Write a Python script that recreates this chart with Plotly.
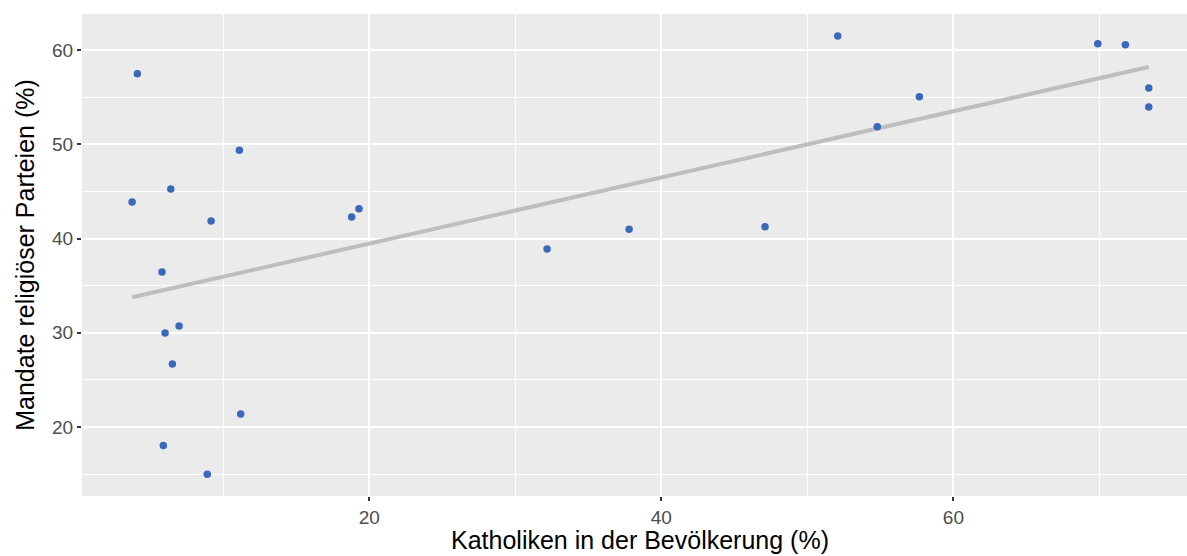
import numpy as np
import plotly.graph_objects as go

# Share of Catholics in the population (%) and seats of religious parties (%)
katholiken = [4.11, 3.75, 6.40, 11.10, 9.16, 5.80, 6.01, 6.97, 6.51, 11.19, 5.89, 8.90,
              18.79, 19.29, 32.17, 37.79, 47.10, 52.08, 54.79, 57.67, 69.89, 71.78, 73.38, 73.38]
mandate = [57.49, 43.87, 45.25, 49.36, 41.86, 36.45, 29.97, 30.71, 26.68, 21.38, 18.05, 14.98,
           42.28, 43.16, 38.89, 40.98, 41.25, 61.49, 51.86, 55.05, 60.67, 60.56, 55.97, 53.95]

x_ticks = [20, 40, 60]
y_ticks = [20, 30, 40, 50, 60]

x = np.array(katholiken)
y = np.array(mandate)
slope, intercept = np.polyfit(x, y, 1)
fit_x = np.array([x.min(), x.max()])
fit_y = intercept + slope * fit_x

fig = go.Figure()
fig.add_trace(go.Scatter(
    x=fit_x, y=fit_y, mode="lines",
    line=dict(color="#BEBEBE", width=4),
    hoverinfo="skip", showlegend=False,
))
fig.add_trace(go.Scatter(
    x=katholiken, y=mandate, mode="markers",
    marker=dict(color="#3A69BA", size=7.5, line=dict(width=0)),
    showlegend=False,
))

font_family = "Liberation Sans, Arial, Helvetica, sans-serif"
fig.update_layout(
    width=1187, height=556,
    margin=dict(l=82, r=0, t=14, b=60),
    paper_bgcolor="white",
    plot_bgcolor="#EBEBEB",
    font=dict(family=font_family, color="#000000"),
    xaxis=dict(
        range=[0.32, 76.0],
        tickvals=x_ticks,
        ticks="outside", ticklen=4, tickwidth=1.5, tickcolor="#333333",
        tickfont=dict(size=19, color="#4D4D4D"),
        showgrid=True, gridcolor="white", gridwidth=1.6,
        minor=dict(dtick=10, tick0=0, showgrid=True, gridcolor="white", gridwidth=0.8),
        zeroline=False, showline=False,
    ),
    yaxis=dict(
        range=[12.68, 63.82],
        tickvals=y_ticks,
        ticks="outside", ticklen=4, tickwidth=1.5, tickcolor="#333333",
        tickfont=dict(size=19, color="#4D4D4D"),
        showgrid=True, gridcolor="white", gridwidth=1.6,
        minor=dict(dtick=5, tick0=15, showgrid=True, gridcolor="white", gridwidth=0.8),
        zeroline=False, showline=False,
        title=dict(text="Mandate religiöser Parteien (%)", font=dict(size=25), standoff=10),
    ),
    annotations=[dict(
        text="Katholiken in der Bevölkerung (%)",
        xref="paper", yref="paper", x=0.5054, y=0, yshift=-60,
        xanchor="center", yanchor="bottom", showarrow=False,
        font=dict(size=25, color="#000000"),
    )],
)

fig.write_html("out.html")
